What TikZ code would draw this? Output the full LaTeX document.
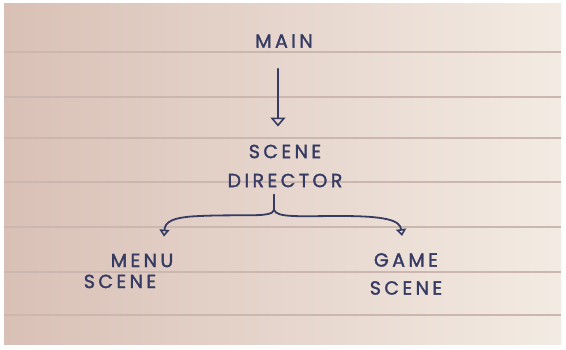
\documentclass[tikz,border=0pt]{standalone}
\usepackage{fontspec}
\usetikzlibrary{arrows.meta}
\usetikzlibrary{positioning}
\newfontfamily\handfont[LetterSpace=18, FakeBold=1.6]{Poppins}
\definecolor{ink}{HTML}{363B63}
\definecolor{paperleft}{HTML}{D9C0B6}
\definecolor{papermid}{HTML}{ECDACC}
\definecolor{paperright}{HTML}{F3EBE3}
\definecolor{ruled}{HTML}{CBB6B0}

\begin{document}
\begin{tikzpicture}[x=1pt,y=-1pt,
  lbl/.style={text=ink, font=\handfont\fontsize{19}{19}\selectfont, align=center, inner sep=0pt},
  flow/.style={draw=ink, line width=1.8pt, line cap=round,
    -{Triangle[open,length=9pt,width=15pt,line width=1.6pt]}},
  branch/.style={draw=ink, line width=1.8pt, line cap=round,
    -{Triangle[open,length=7pt,width=10pt,line width=1.6pt]}}]
\useasboundingbox (0,0) rectangle (566,349);
% paper
\fill[white] (0,0) rectangle (566,349);
\shade[left color=paperleft, middle color=papermid, right color=paperright] (4,3) rectangle (561,344);
\foreach \y in {52,97,138,182,227,272,315}
  \draw[ruled, line width=1.1pt] (4,\y) -- (561,\y);

\node[lbl] (main) at (284,41) {MAIN};
\node[lbl] (director) at (285,166) {SCENE\\[10pt]DIRECTOR};
\node[lbl] (menu) at (131,271) {\hspace*{22pt}MENU\\[2pt]SCENE\hspace*{22pt}};
\node[lbl] (game) at (406,274) {GAME\\[9pt]SCENE};

\draw[flow] ([xshift=-6pt,yshift=-21pt]main.south) -- ([xshift=-7pt,yshift=18pt]director.north);

% split under the director
\coordinate (split) at (274,210);
\draw[ink, line width=1.8pt, line cap=round] ([xshift=-11pt,yshift=-7pt]director.south) -- (split);
\draw[branch] (split) .. controls (272,218) and (245,214) .. (200,216)
  .. controls (172,217) and (165,222) .. ([xshift=33pt,yshift=17pt]menu.north);
\draw[branch] (split) .. controls (277,218) and (300,216) .. (340,216)
  .. controls (385,216) and (400,220) .. ([xshift=-4pt,yshift=17pt]game.north);
\end{tikzpicture}
\end{document}
